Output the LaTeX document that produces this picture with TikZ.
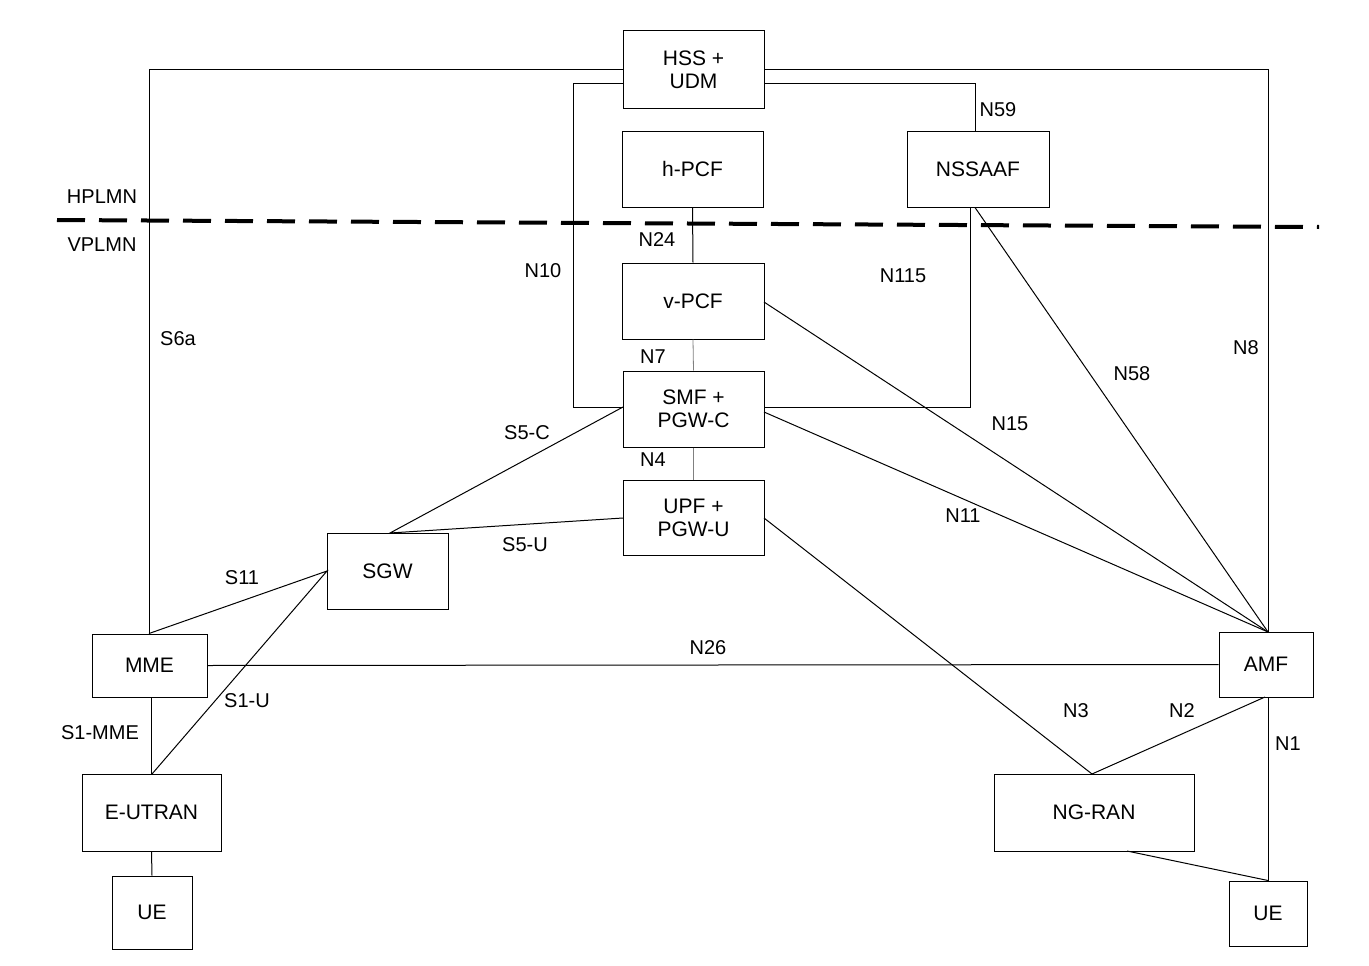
\documentclass[tikz,border=0pt]{standalone}
\usepackage{fontspec}
\setmainfont{Liberation Sans}
\begin{document}
\begin{tikzpicture}[x=1pt,y=-1pt,
 box/.style={draw,line width=1pt,align=center,font=\fontsize{21}{23}\selectfont,inner sep=0pt},
 lab/.style={font=\fontsize{20}{22}\selectfont,inner sep=0pt},
 ln/.style={line width=1pt},
 gl/.style={line width=0.8pt,gray}]
\useasboundingbox (0,0) rectangle (1369,966);
\def\bx#1#2#3#4#5#6{\node[box,minimum width=#4-#2,minimum height=#5-#3] (#1) at ({(#2+#4)/2},{(#3+#5)/2}) {#6};}
\bx{hss}{623}{31}{764}{108}{HSS +\\UDM}
\bx{hpcf}{622}{131}{763}{207}{h-PCF}
\bx{nssaaf}{907}{131}{1049}{207}{NSSAAF}
\bx{vpcf}{622}{263}{764}{339}{v-PCF}
\bx{smf}{623}{371}{764}{447}{SMF +\\PGW-C}
\bx{upf}{623}{480}{764}{555}{UPF +\\PGW-U}
\bx{sgw}{327}{533}{448}{609}{SGW}
\bx{mme}{92}{634}{207}{697}{MME}
\bx{amf}{1219}{632}{1313}{697}{AMF}
\bx{eutran}{82}{774}{221}{851}{E-UTRAN}
\bx{uel}{112}{876}{192}{949}{UE}
\bx{ngran}{994}{774}{1194}{851}{NG-RAN}
\bx{uer}{1229}{881}{1307}{946}{UE}
\coordinate (a1) at (149,70); \coordinate (a2) at (1268,70);
\draw[ln] (hss.west|-a1) -| (mme.north-|a1);
\draw[ln] (hss.east|-a2) -| (amf.north-|a2);
\coordinate (r1) at (573,84); \coordinate (r2) at (573,407); \coordinate (r3) at (970,407);
\draw[ln] (hss.west|-r1) -- (r1) -- (r2) -- (smf.west|-r2);
\draw[ln] (smf.east|-r3) -- (r3) -- (nssaaf.south-|r3);
\coordinate (n59) at (975,84);
\draw[ln] (hss.east|-n59) -- (n59) -- (nssaaf.north-|n59);
\draw[ln] (hpcf.south) -- (vpcf.north);
\draw[gl] (vpcf.south) -- (smf.north);
\draw[gl] (smf.south) -- (upf.north);
\coordinate (amft) at (1268,632);
\draw[ln] (764,302) -- (amft);
\draw[ln] (764,412) -- (amft);
\draw[ln] (nssaaf.south-|n59) -- (amft);
\coordinate (sgwt) at (390,533); \coordinate (sgwl) at (327,571);
\draw[ln] (623,407) -- (sgwt) -- (623,518);
\draw[ln] (mme.north-|a1) -- (sgwl) -- (152,774);
\draw[ln] (mme.east) -- (amf.west);
\draw[ln] (mme.south-|eutran.north) -- (eutran.north);
\draw[ln] (eutran.south) -- (uel.north);
\coordinate (ngt) at (1092,774);
\draw[ln] (764,518) -- (ngt) -- (1265,697);
\draw[ln] (amf.south-|a2) -- (uer.north-|a2);
\draw[ln] (1127,851) -- (uer.north-|a2);
\draw[line width=4pt,dash pattern=on 28pt off 14pt] (57,220) -- (1319,227);
\foreach \t/\x/\y in {HPLMN/102/197,VPLMN/102/245,N59/998/110,N24/657/240,N10/543/271,N115/903/276,S6a/178/339,N8/1246/348,N58/1132/374,N7/653/357,S5-C/527/433,N15/1010/424,N4/653/460,N11/963/516,S5-U/525/545,S11/242/578,N26/708/648,S1-U/247/701,S1-MME/100/733,N3/1076/711,N2/1182/711,N1/1288/744}
 \node[lab] (l\t) at (\x,\y) {\t};
\end{tikzpicture}
\end{document}
